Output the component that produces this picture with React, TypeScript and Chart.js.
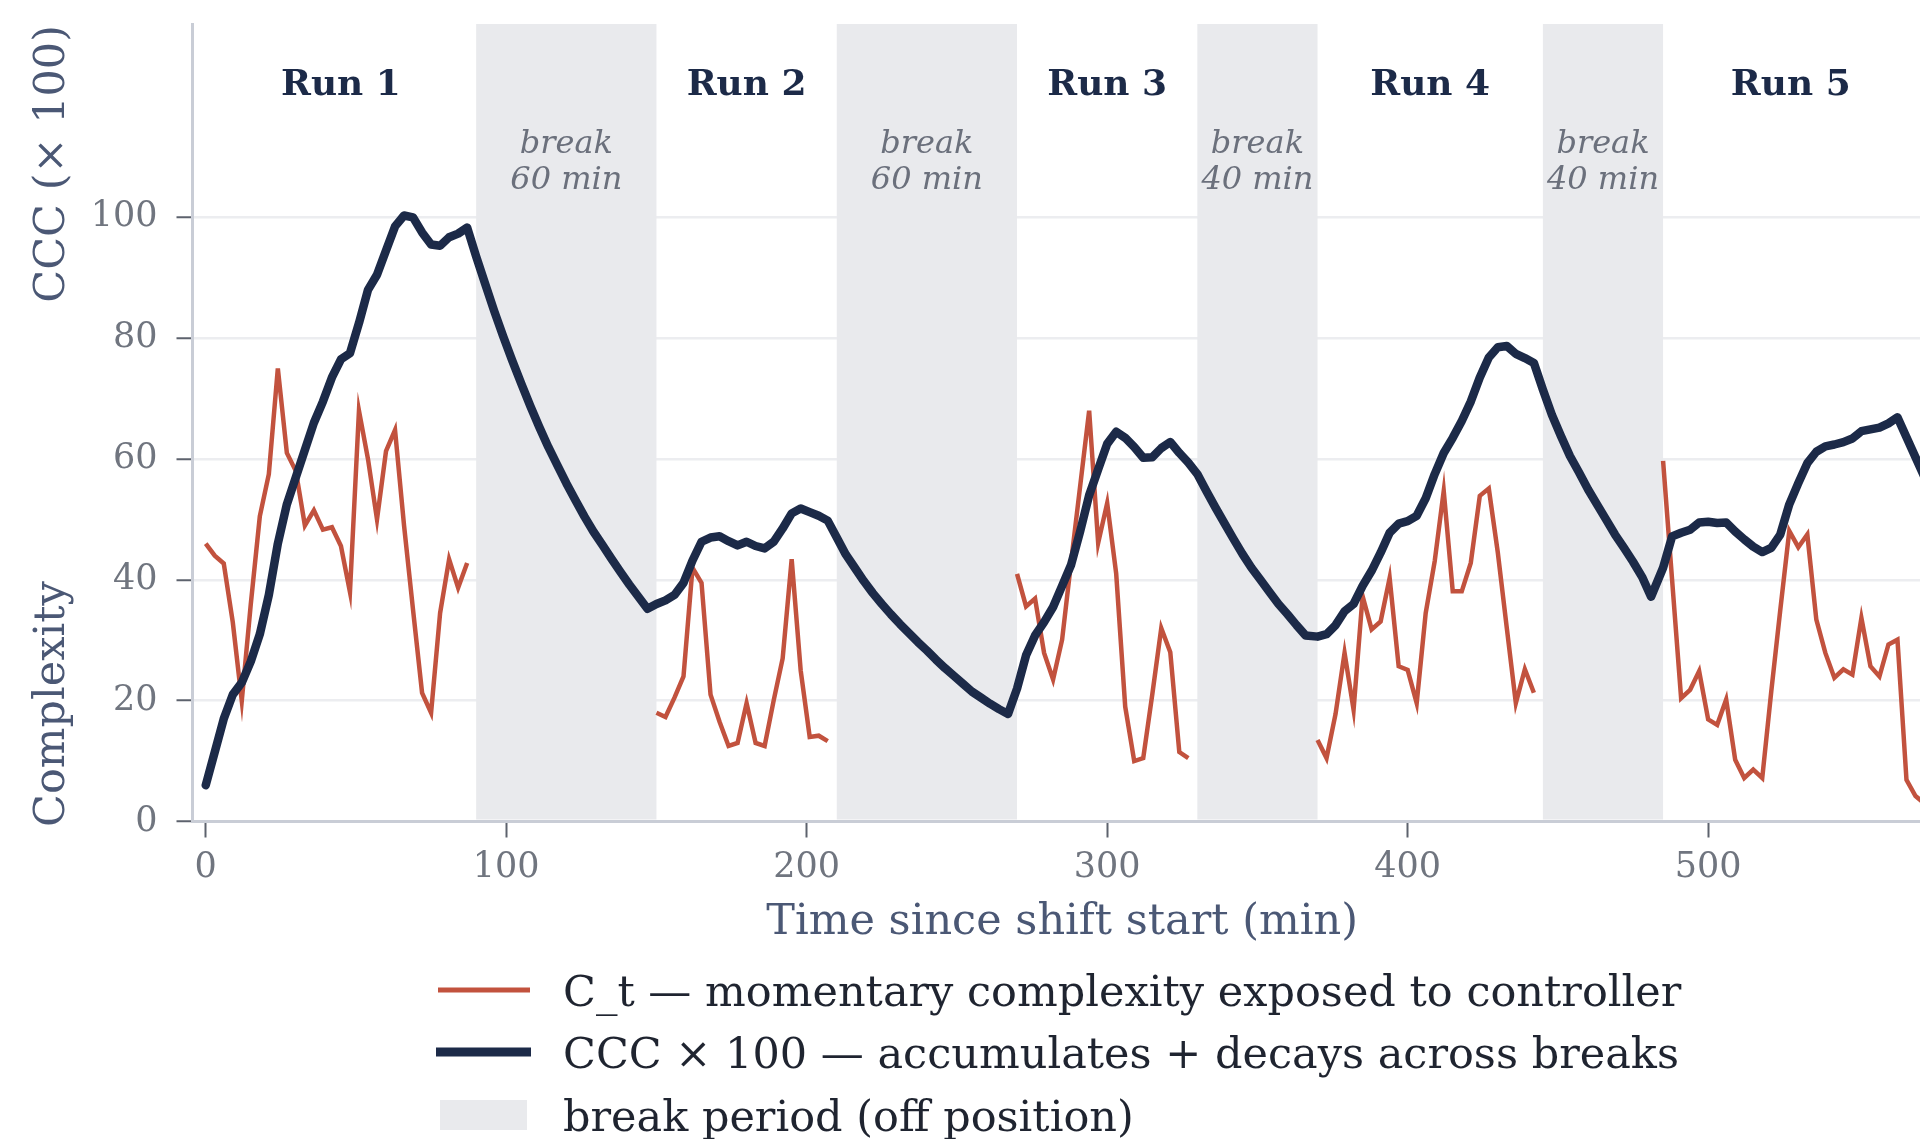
import React, { useEffect, useRef } from 'react';
import { Chart, registerables } from 'chart.js';

Chart.register(...registerables);

// ---------------- data ----------------
const SAMPLE_STEP_MIN = 3;

const RUN_LABELS = ['Run 1', 'Run 2', 'Run 3', 'Run 4', 'Run 5'];
const RUN_BOUNDS = [[0, 90], [150, 210], [270, 330], [370, 445], [485, 570]];
const BREAK_BOUNDS = [[90, 150], [210, 270], [330, 370], [445, 485]];
const BREAK_LABELS = [
  ['break', '60 min'],
  ['break', '60 min'],
  ['break', '40 min'],
  ['break', '40 min'],
];
const X_TICKS = [0, 100, 200, 300, 400, 500];
const Y_TICKS = [0, 20, 40, 60, 80, 100];

// C_t momentary complexity, per run (3-min samples from run start)
const CT_RUN1 = [46, 44, 42.7, 33, 20, 36, 50.5, 57.5, 75, 61, 58, 49, 51.5, 48.3, 48.7, 45.6, 38, 68, 60, 50, 61.3, 64.8, 49, 35, 21.3, 18, 34.5, 43.4, 38.7, 42.8];
const CT_RUN2 = [18, 17.3, 20.5, 24, 42, 39.5, 21, 16.5, 12.5, 13, 19.6, 13, 12.5, 20, 27, 43.4, 25, 14, 14.2, 13.3];
const CT_RUN3 = [41, 35.6, 36.9, 27.9, 23.5, 30.1, 43, 55.5, 68, 46.1, 52.7, 41, 19, 10, 10.5, 21, 32, 28, 11.5, 10.5];
const CT_RUN4 = [13.5, 10.5, 17.8, 27.9, 18.5, 37.3, 31.8, 33.1, 40.3, 25.7, 25.1, 19.6, 34.5, 43.1, 54.7, 38.1, 38.1, 42.8, 53.9, 55.1, 44.5, 32, 19.6, 25.2, 21.3];
const CT_RUN5 = [59.7, 40, 20.4, 21.8, 24.9, 16.9, 16, 20.2, 10.2, 7.2, 8.6, 7.2, 21.5, 35, 48.1, 45.4, 47.5, 33.4, 27.9, 23.8, 25.2, 24.3, 33.7, 25.7, 24, 29.3, 30.1, 6.9, 4.2, 3];

// CCC x 100, per run and per break (3-min samples from segment start)
const CCC_RUN1 = [6, 11.5, 17, 21, 23, 26.5, 31, 37.5, 46, 52.5, 57, 61.5, 66, 69.5, 73.5, 76.5, 77.5, 82.5, 88, 90.5, 94.5, 98.5, 100.3, 100, 97.5, 95.5, 95.3, 96.7, 97.3, 98.3];
const CCC_BREAK1 = [93.5, 89, 84.5, 80.3, 76.3, 72.5, 68.8, 65.3, 62, 59, 56, 53.2, 50.5, 48, 45.8, 43.5, 41.3, 39.2, 37.2, 35.2];
const CCC_RUN2 = [36, 36.6, 37.5, 39.5, 43.2, 46.3, 47, 47.2, 46.4, 45.7, 46.3, 45.6, 45.2, 46.3, 48.5, 51, 51.8, 51.2, 50.6, 49.8];
const CCC_BREAK2 = [47, 44.2, 42, 39.8, 37.8, 36, 34.3, 32.7, 31.2, 29.7, 28.3, 26.8, 25.4, 24.1, 22.8, 21.5, 20.5, 19.5, 18.6, 17.8];
const CCC_RUN3 = [22, 27.5, 30.8, 33, 35.5, 39, 42.5, 48, 54, 58.3, 62.5, 64.5, 63.5, 62, 60.2, 60.3, 61.8, 62.8, 61, 59.4];
const CCC_BREAK3 = [57.5, 54.7, 52, 49.4, 46.8, 44.3, 42, 40, 38, 36, 34.3, 32.5, 30.8];
const CCC_RUN4 = [30.6, 31, 32.5, 34.8, 36, 39, 41.5, 44.5, 47.8, 49.3, 49.7, 50.6, 53.5, 57.5, 61, 63.5, 66.3, 69.5, 73.5, 76.8, 78.5, 78.7, 77.4, 76.7, 75.9];
const CCC_BREAK4 = [71.5, 67.3, 63.8, 60.5, 57.8, 55, 52.5, 50, 47.5, 45.3, 43, 40.5, 37.2];
const CCC_RUN5 = [42, 47.2, 47.8, 48.3, 49.5, 49.6, 49.4, 49.5, 48, 46.7, 45.5, 44.6, 45.3, 47.5, 52.5, 56, 59.3, 61.2, 62.1, 62.4, 62.8, 63.4, 64.6, 64.9, 65.2, 65.9, 66.9, 63.6, 60.3, 57];

const CT_RUNS = [CT_RUN1, CT_RUN2, CT_RUN3, CT_RUN4, CT_RUN5];
const CCC_RUNS = [CCC_RUN1, CCC_RUN2, CCC_RUN3, CCC_RUN4, CCC_RUN5];
const CCC_BREAKS = [CCC_BREAK1, CCC_BREAK2, CCC_BREAK3, CCC_BREAK4];

const LEGEND_ITEMS = [
  'C_t — momentary complexity exposed to controller',
  'CCC × 100 — accumulates + decays across breaks',
  'break period (off position)',
];

// ---------------- style ----------------
const W = 1920;
const H = 1139;
const FONT = "'DejaVu Serif', serif";
const RED = '#c2523e';
const NAVY = '#1c2a48';
const BAND = '#e9eaed';
const GRID = '#ecedf0';
const SPINE = '#c9cdd6';
const TICK_MARK = '#5d626d';
const TICK_TEXT = '#70757f';
const TITLE_TEXT = '#4b5875';
const BREAK_TEXT = '#6b707c';
const LEGEND_TEXT = '#1f2430';

const PLOT_LEFT = 192.5;
const PLOT_TOP = 24;
const PLOT_BOTTOM = 821.5;

function segment(start: number, values: number[]) {
  return values.map((v, i) => ({ x: start + SAMPLE_STEP_MIN * i, y: v }));
}

function buildCt() {
  const pts: { x: number; y: number | null }[] = [];
  RUN_BOUNDS.forEach(([s], i) => {
    pts.push(...segment(s, CT_RUNS[i]));
    if (i < BREAK_BOUNDS.length) pts.push({ x: BREAK_BOUNDS[i][0], y: null });
  });
  return pts;
}

function buildCcc() {
  const pts: { x: number; y: number }[] = [];
  RUN_BOUNDS.forEach(([s], i) => {
    pts.push(...segment(s, CCC_RUNS[i]));
    if (i < BREAK_BOUNDS.length) pts.push(...segment(BREAK_BOUNDS[i][0], CCC_BREAKS[i]));
  });
  return pts;
}

const decorPlugin = {
  id: 'decor',
  beforeDatasetsDraw(chart: any) {
    const { ctx, chartArea } = chart;
    const x = chart.scales.x;
    ctx.save();
    ctx.fillStyle = BAND;
    BREAK_BOUNDS.forEach(([a, b]) => {
      const x1 = x.getPixelForValue(a);
      const x2 = x.getPixelForValue(b);
      ctx.fillRect(x1, chartArea.top, x2 - x1, chartArea.bottom - chartArea.top - 2);
    });
    ctx.restore();
  },
  afterDraw(chart: any) {
    const { ctx } = chart;
    const x = chart.scales.x;
    const y = chart.scales.y;
    ctx.save();
    // run labels
    ctx.fillStyle = NAVY;
    ctx.font = `bold 36px ${FONT}`;
    ctx.textAlign = 'center';
    ctx.textBaseline = 'alphabetic';
    RUN_BOUNDS.forEach(([a, b], i) => {
      ctx.fillText(RUN_LABELS[i], x.getPixelForValue((a + b) / 2), y.getPixelForValue(120.2));
    });
    // break labels
    ctx.fillStyle = BREAK_TEXT;
    ctx.font = `italic 32px ${FONT}`;
    BREAK_BOUNDS.forEach(([a, b], i) => {
      const cx = x.getPixelForValue((a + b) / 2);
      const by = y.getPixelForValue(110.6);
      BREAK_LABELS[i].forEach((line, j) => ctx.fillText(line, cx, by + j * 36));
    });
    // x title
    ctx.fillStyle = TITLE_TEXT;
    ctx.font = `43px ${FONT}`;
    ctx.fillText('Time since shift start (min)', x.getPixelForValue(285), 934);
    // y titles
    ctx.save();
    ctx.translate(64, 827);
    ctx.rotate(-Math.PI / 2);
    ctx.textAlign = 'left';
    ctx.fillText('Complexity', 0, 0);
    ctx.restore();
    ctx.save();
    ctx.translate(64, 25);
    ctx.rotate(-Math.PI / 2);
    ctx.textAlign = 'right';
    ctx.fillText('CCC (× 100)', 0, 0);
    ctx.restore();
    // legend
    const rows = [990, 1052, 1115];
    ctx.lineCap = 'butt';
    ctx.strokeStyle = RED;
    ctx.lineWidth = 5;
    ctx.beginPath();
    ctx.moveTo(438, rows[0]);
    ctx.lineTo(530, rows[0]);
    ctx.stroke();
    ctx.strokeStyle = NAVY;
    ctx.lineWidth = 9;
    ctx.beginPath();
    ctx.moveTo(436, rows[1]);
    ctx.lineTo(531, rows[1]);
    ctx.stroke();
    ctx.fillStyle = BAND;
    ctx.fillRect(440, rows[2] - 15, 87, 30);
    ctx.fillStyle = LEGEND_TEXT;
    ctx.font = `43px ${FONT}`;
    ctx.textAlign = 'left';
    ctx.textBaseline = 'alphabetic';
    LEGEND_ITEMS.forEach((t, i) => ctx.fillText(t, 563, rows[i] + 15.5));
    ctx.restore();
  },
};

export default function App() {
  const ref = useRef<HTMLCanvasElement | null>(null);
  useEffect(() => {
    if (!ref.current) return;
    const chart = new Chart(ref.current, {
      type: 'line',
      data: {
        datasets: [
          {
            label: 'C_t',
            data: buildCt() as any,
            borderColor: RED,
            borderWidth: 4.5,
            pointRadius: 0,
            tension: 0,
            spanGaps: false,
            order: 1,
          },
          {
            label: 'CCC',
            data: buildCcc() as any,
            borderColor: NAVY,
            borderWidth: 8.5,
            borderJoinStyle: 'round',
            borderCapStyle: 'round',
            pointRadius: 0,
            tension: 0,
            order: 0,
          },
        ],
      },
      options: {
        responsive: false,
        animation: false,
        devicePixelRatio: 1,
        layout: { padding: { top: PLOT_TOP, right: 0, bottom: 0, left: 0 } },
        plugins: { legend: { display: false }, tooltip: { enabled: false } },
        scales: {
          x: {
            type: 'linear',
            min: -4.4,
            max: 570.5,
            afterBuildTicks: (s: any) => {
              s.ticks = X_TICKS.map((v) => ({ value: v }));
            },
            afterFit: (s: any) => {
              s.height = H - PLOT_BOTTOM;
              s.paddingLeft = 0;
              s.paddingRight = 0;
            },
            ticks: { font: { family: FONT, size: 35 }, color: TICK_TEXT, padding: 9.5, maxRotation: 0 },
            grid: { drawOnChartArea: false, drawTicks: true, tickLength: 16, tickColor: TICK_MARK, tickWidth: 2 },
            border: { color: SPINE, width: 3 },
          },
          y: {
            min: 0,
            max: 132,
            afterBuildTicks: (s: any) => {
              s.ticks = Y_TICKS.map((v) => ({ value: v }));
            },
            afterFit: (s: any) => {
              s.width = PLOT_LEFT;
              s.paddingTop = 0;
              s.paddingBottom = 0;
            },
            ticks: { font: { family: FONT, size: 35 }, color: TICK_TEXT, padding: 19 },
            grid: { color: GRID, lineWidth: 2.5, drawTicks: true, tickLength: 16, tickColor: TICK_MARK, tickWidth: 2 },
            border: { color: SPINE, width: 3 },
          },
        },
      } as any,
      plugins: [decorPlugin],
    });
    return () => chart.destroy();
  }, []);
  return (
    <div style={{ position: 'fixed', left: 0, top: 0, width: W, height: H, background: '#ffffff' }}>
      <canvas ref={ref} width={W} height={H} style={{ width: W, height: H, display: 'block' }} />
    </div>
  );
}
